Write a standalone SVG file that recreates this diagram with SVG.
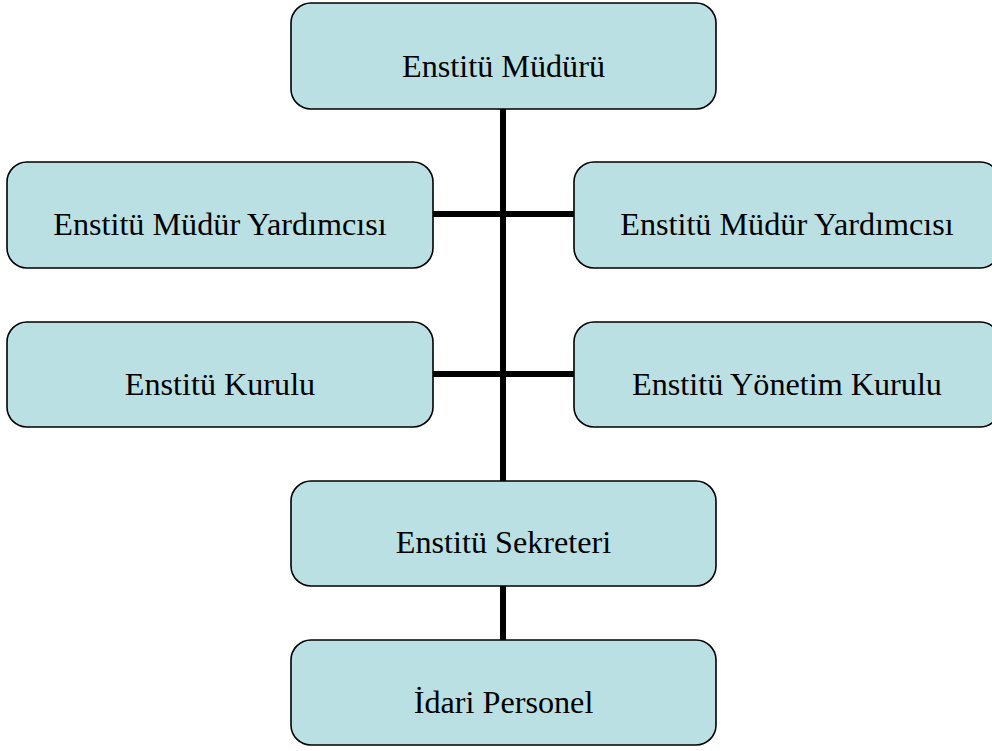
<svg xmlns="http://www.w3.org/2000/svg" width="992" height="751" viewBox="0 0 992 751">
<style>
.box{fill:#bae0e4;stroke:#000;stroke-width:1.6}
.lbl{font-family:"Liberation Serif","Times New Roman",serif;font-size:32.2px;fill:#000;text-anchor:middle}
.con{stroke:#000;stroke-width:6;fill:none}
</style>
<rect width="992" height="751" fill="#fff"/>
<g id="connectors">
<line class="con" x1="503" y1="109" x2="503" y2="481"/>
<line class="con" x1="433" y1="214" x2="574" y2="214"/>
<line class="con" x1="433" y1="374" x2="574" y2="374"/>
<line class="con" x1="503" y1="586" x2="503" y2="640"/>
</g>
<g id="mudur">
<rect class="box" x="291" y="3" width="425" height="106" rx="20"/>
<text class="lbl" x="503.5" y="77">Enstitü Müdürü</text>
</g>
<g id="yardimci-sol">
<rect class="box" x="7" y="162" width="426" height="106" rx="20"/>
<text class="lbl" x="220" y="235">Enstitü Müdür Yardımcısı</text>
</g>
<g id="yardimci-sag">
<rect class="box" x="574" y="162" width="426" height="106" rx="20"/>
<text class="lbl" x="787" y="235">Enstitü Müdür Yardımcısı</text>
</g>
<g id="kurul">
<rect class="box" x="7" y="322" width="426" height="105" rx="20"/>
<text class="lbl" x="220" y="395">Enstitü Kurulu</text>
</g>
<g id="yonetim-kurulu">
<rect class="box" x="574" y="322" width="426" height="105" rx="20"/>
<text class="lbl" x="787" y="395">Enstitü Yönetim Kurulu</text>
</g>
<g id="sekreter">
<rect class="box" x="291" y="481" width="425" height="105" rx="20"/>
<text class="lbl" x="503.5" y="553">Enstitü Sekreteri</text>
</g>
<g id="idari-personel">
<rect class="box" x="291" y="640" width="425" height="105" rx="20"/>
<text class="lbl" x="503.5" y="713">İdari Personel</text>
</g>
</svg>
